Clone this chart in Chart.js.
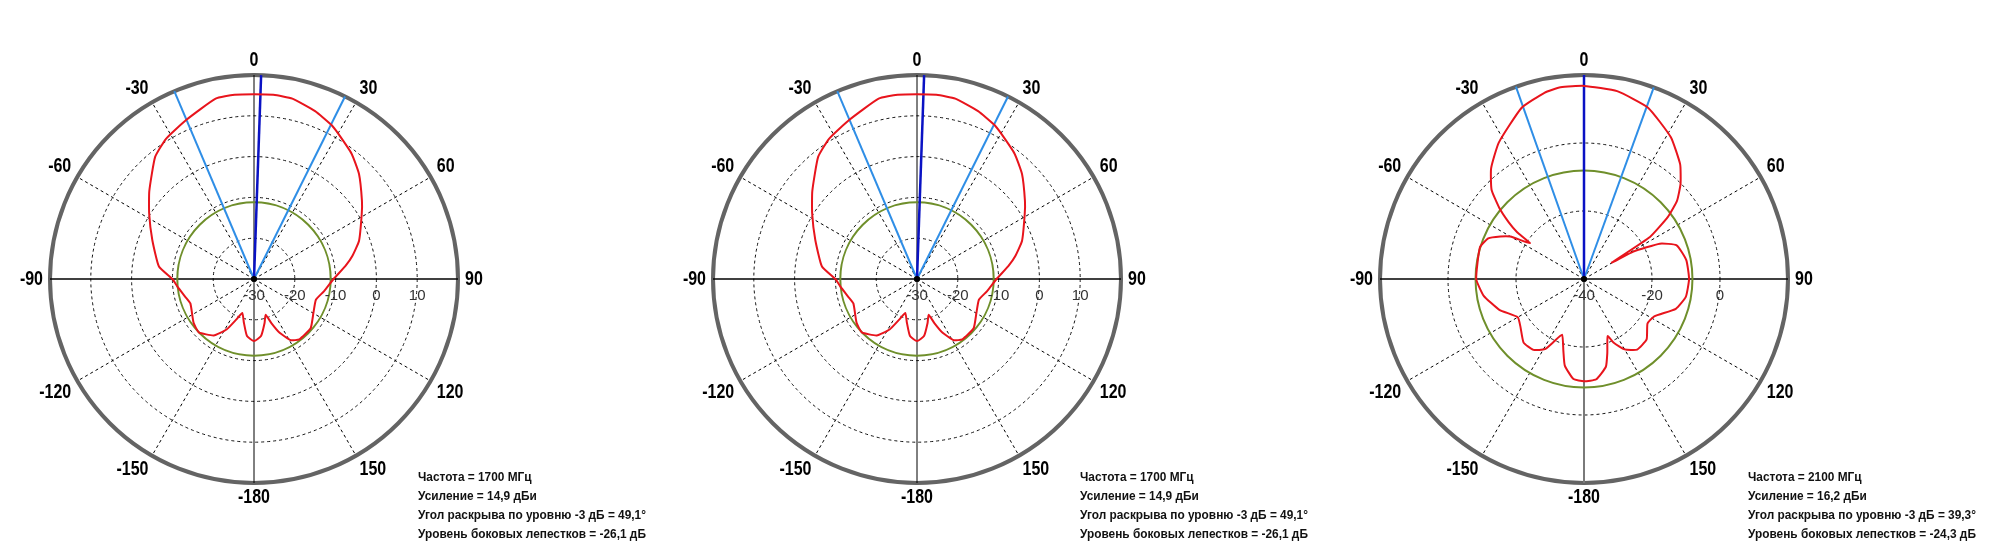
<!DOCTYPE html>
<html>
<head>
<meta charset="utf-8">
<script src="https://cdn.jsdelivr.net/npm/chart.js@4.4.1/dist/chart.umd.min.js"></script>
<style>
  html, body { margin: 0; padding: 0; background: #fff; overflow: hidden; }
  body { width: 2000px; height: 559px; position: relative; }
  .plot { position: absolute; top: 0; width: 560px; height: 559px; }
  .note {
    position: absolute; top: 467px; z-index: 5;
    font: bold 13px "Liberation Sans", Arial, sans-serif;
    line-height: 19px; color: #111; white-space: nowrap;
    transform: scaleX(0.912); transform-origin: 0 0;
  }
</style>
</head>
<body>
<div class="plot" id="p1"><canvas id="c1"></canvas></div>
<div class="plot" id="p2"><canvas id="c2"></canvas></div>
<div class="plot" id="p3"><canvas id="c3"></canvas></div>
<div class="note" id="n1"></div>
<div class="note" id="n2"></div>
<div class="note" id="n3"></div>
<script>
// angle grid step of the radar categories, degrees
const angleStep = 0.5;
const angleTicks = ['0', '30', '60', '90', '120', '150', '-180', '-150', '-120', '-90', '-60', '-30'];

// 1700 MHz pattern (charts 1 and 2): angle clockwise from boresight, dB
const angA = [0, 6, 12, 20, 26.5, 30, 38, 45, 54, 59, 70, 77, 82, 90, 100, 108.5, 120, 131, 143, 149,
  154.5, 158.5, 162, 166.5, 173, 180, 187, 193, 199, 203.5, 208.5, 215.5, 226, 234, 249, 255.5, 264.5,
  270, 277.5, 291, 302, 310, 321, 328, 337, 348, 354];
const dbA = [15.3, 15.4, 15.2, 13.8, 12.3, 11.2, 8.9, 6.4, 2.7, 0.8, -2.6, -5.3, -7.4, -10.5, -12.6, -14.0, -13.2, -11.6, -11.5, -12.5,
  -15.4, -18.4, -20.8, -18.9, -15.9, -14.8, -15.9, -19.0, -21.2, -19.2, -15.9, -13.0, -11.2, -11.7, -13.3, -12.6, -11.1,
  -10.0, -6.5, -3.3, 0.3, 3.5, 8.5, 10.6, 12.4, 15.2, 15.4];

// 2100 MHz pattern (chart 3)
const angB = [0, 10, 20.5, 31.5, 40, 45.5, 50, 53.5, 57.5, 59.5, 61, 65, 70, 79.5, 90, 100, 108, 118,
  125, 134, 143, 150, 155, 157.5, 162.5, 166, 173, 180, 186, 192.5, 196, 201.5, 206, 209, 215.5, 223.5,
  233.5, 240, 250, 260.5, 270, 287, 293, 297, 300, 303.5, 305, 307, 310, 314, 320, 328, 340, 348, 353];
const dbB = [16.8, 16.1, 13.8, 8.9, 4.0, -0.2, -4.3, -9.3, -17.0, -30.5, -23.4, -15.4, -11.0, -9.4, -9.1, -9.6, -11.6, -16.6,
  -17.2, -14.4, -14.0, -16.1, -19.3, -21.8, -17.2, -13.4, -10.3, -9.9, -10.4, -13.9, -18.0, -22.4, -19.2, -16.4, -14.4, -14.2,
  -16.7, -17.5, -13.5, -10.1, -8.3, -8.0, -9.4, -12.4, -15.0, -20.9, -16.0, -12.3, -7.5, -2.2, 2.5, 7.3, 13.6, 16.0, 16.8];

// beam direction and -3 dB edges, degrees
const beamA = [2, -23, 26.5];
const beamB = [0, -19.5, 20];

// side lobe level = gain - side lobe suppression
const gainA = 14.9, sideA = -26.1;
const gainB = 16.2, sideB = -24.3;

const notesA = ['Частота = 1700 МГц', 'Усиление = 14,9 дБи', 'Угол раскрыва по уровню -3 дБ = 49,1°', 'Уровень боковых лепестков = -26,1 дБ'];
const notesB = ['Частота = 2100 МГц', 'Усиление = 16,2 дБи', 'Угол раскрыва по уровню -3 дБ = 39,3°', 'Уровень боковых лепестков = -24,3 дБ'];

const labelCount = Math.round(360 / angleStep);
const labels = [];
for (let i = 0; i < labelCount; i++) labels.push(i * angleStep);

function toIndex(a) {
  return ((Math.round(a / angleStep) % labelCount) + labelCount) % labelCount;
}

function patternData(angs, vals) {
  const d = new Array(labelCount).fill(null);
  angs.forEach((a, k) => { d[toIndex(a)] = vals[k]; });
  return d;
}

function beamData(a, rMin, rMax) {
  const d = new Array(labelCount).fill(null);
  const i = toIndex(a);
  d[i] = rMax;
  d[(i + 1) % labelCount] = rMin;
  return d;
}

const polarDeco = {
  id: 'polarDeco',
  beforeDatasetsDraw(chart, args, opts) {
    const r = chart.scales.r;
    const ctx = chart.ctx;
    ctx.save();
    ctx.strokeStyle = '#6f8f2b';
    ctx.lineWidth = 2;
    ctx.beginPath();
    ctx.arc(r.xCenter, r.yCenter, r.getDistanceFromCenterForValue(opts.level), 0, Math.PI * 2);
    ctx.stroke();
    ctx.restore();
  },
  afterDatasetsDraw(chart) {
    const r = chart.scales.r;
    const ctx = chart.ctx;
    ctx.save();
    // radial tick values under the right half of the horizontal axis
    ctx.fillStyle = '#333';
    ctx.font = '15px "Liberation Sans", Arial, sans-serif';
    ctx.textAlign = 'center';
    ctx.textBaseline = 'middle';
    r.ticks.forEach(t => {
      if (t.value >= r.max) return;
      ctx.fillText(String(t.value), r.xCenter + r.getDistanceFromCenterForValue(t.value), r.yCenter + 17);
    });
    ctx.fillStyle = '#000';
    ctx.beginPath();
    ctx.arc(r.xCenter, r.yCenter, 3, 0, Math.PI * 2);
    ctx.fill();

    // angle labels, condensed bold
    const squeeze = 0.8;
    const halfH = 7.5;
    ctx.font = 'bold 20px "Liberation Sans", Arial, sans-serif';
    ctx.fillStyle = '#000';
    angleTicks.forEach((txt, k) => {
      const a = k * 30;
      const p = r.getPointPosition(toIndex(a), r.drawingArea + 7);
      const w = ctx.measureText(txt).width * squeeze;
      const s = Math.sin(a * Math.PI / 180), c = Math.cos(a * Math.PI / 180);
      const x = p.x + (Math.abs(s) < 1e-6 ? 0 : Math.sign(s) * w / 2);
      const y = p.y - (Math.abs(c) < 1e-6 ? 0 : Math.sign(c) * halfH);
      ctx.save();
      ctx.translate(x, y);
      ctx.scale(squeeze, 1);
      ctx.fillText(txt, 0, 0);
      ctx.restore();
    });
    ctx.restore();
  }
};

function makeChart(id, angs, vals, beam, level, rMin, rStep, backColor) {
  const rMax = 20;
  const lineOpts = { pointRadius: 0, pointHoverRadius: 0, fill: false, tension: 0 };
  new Chart(document.getElementById(id), {
    type: 'radar',
    data: {
      labels: labels,
      datasets: [
        Object.assign({}, lineOpts, { data: patternData(angs, vals), borderColor: '#e8141c', borderWidth: 2, spanGaps: true, tension: 0.15 }),
        Object.assign({}, lineOpts, { data: beamData(beam[0], rMin, rMax), borderColor: '#0a12c4', borderWidth: 2.5 }),
        Object.assign({}, lineOpts, { data: beamData(beam[1], rMin, rMax), borderColor: '#2f8ee6', borderWidth: 2 }),
        Object.assign({}, lineOpts, { data: beamData(beam[2], rMin, rMax), borderColor: '#2f8ee6', borderWidth: 2 })
      ]
    },
    options: {
      responsive: true,
      maintainAspectRatio: false,
      animation: false,
      layout: { padding: { top: 75, bottom: 76, left: 0, right: 0 } },
      plugins: {
        legend: { display: false },
        tooltip: { enabled: false },
        polarDeco: { level: level }
      },
      scales: {
        r: {
          min: rMin,
          max: rMax,
          ticks: { stepSize: rStep, display: false },
          grid: {
            circular: true,
            color: c => (c.tick && c.tick.value === rMax ? '#646464' : '#111'),
            lineWidth: c => (c.tick && c.tick.value === rMax ? 4 : 1)
          },
          border: {
            dash: c => (c.tick && c.tick.value === rMax ? [] : [3, 3])
          },
          angleLines: {
            color: c => {
              const a = c.index * angleStep;
              if (a % 30 !== 0) return 'rgba(0,0,0,0)';
              if (a === 180) return backColor;
              return '#000';
            },
            lineWidth: c => {
              const a = c.index * angleStep;
              if (a % 30 !== 0) return 0;
              if (a === 90 || a === 270) return 1.5;
              if (a === 180 && backColor !== '#000') return 2;
              return 1;
            },
            borderDash: c => {
              const a = c.index * angleStep;
              return a % 90 === 0 ? [] : [3, 3];
            }
          },
          pointLabels: { display: false }
        }
      }
    },
    plugins: [polarDeco]
  });
}

function placePlot(id, cx) {
  document.getElementById(id).style.left = (cx - 280) + 'px';
}

function placeNote(id, x, lines) {
  const el = document.getElementById(id);
  el.style.left = x + 'px';
  el.innerHTML = lines.join('<br>');
}

placePlot('p1', 254);
placePlot('p2', 917);
placePlot('p3', 1584);

makeChart('c1', angA, dbA, beamA, gainA + sideA, -30, 10, '#000');
makeChart('c2', angA, dbA, beamA, gainA + sideA, -30, 10, '#000');
makeChart('c3', angB, dbB, beamB, gainB + sideB, -40, 20, '#7a7a7a');

placeNote('n1', 418, notesA);
placeNote('n2', 1080, notesA);
placeNote('n3', 1748, notesB);
</script>
</body>
</html>
